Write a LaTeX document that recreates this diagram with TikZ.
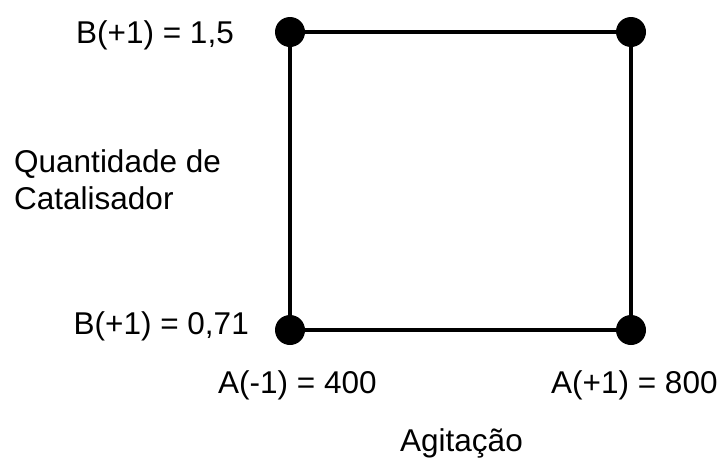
\documentclass[tikz,border=0pt]{standalone}
\usepackage{fontspec}
\setmainfont{Liberation Sans}
\usetikzlibrary{arrows.meta,shapes}
\begin{document}
\begin{tikzpicture}[x=1pt,y=-1pt,
dot/.style={circle,fill=black,inner sep=0pt,minimum size=30pt},
lbl/.style={inner sep=0pt,font=\fontsize{31.5}{37}\selectfont}]
\useasboundingbox (0,0) rectangle (722,461);
%% corners
\node[dot](tl)at(290,32){};
\node[dot](tr)at(631,32){};
\node[dot](bl)at(290,330){};
\node[dot](br)at(631,330){};
\draw[line width=3.5pt](tl)--(tr) (tr)--(br) (br)--(bl) (bl)--(tl);
%% levels
\node[lbl,anchor=base east](bhi)at(234,43){B(+1) = 1,5};
\node[lbl,anchor=base east](blo)at(249,334){B(+1) = 0,71};
\node[lbl,anchor=base west](alo)at(218,393){A(-1) = 400};
\node[lbl,anchor=base west](ahi)at(551,393){A(+1) = 800};
%% factors
\node[lbl,anchor=west,align=left](cat)at(14,180){Quantidade de\\Catalisador};
\node[lbl,anchor=base west](agit)at(400,451){Agitação};
\end{tikzpicture}
\end{document}
